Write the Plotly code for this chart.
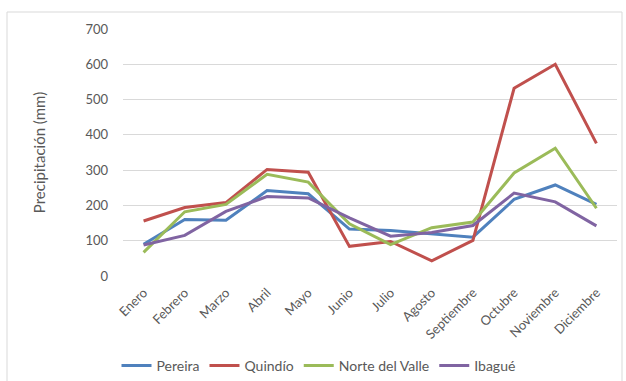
import plotly.graph_objects as go

# Monthly precipitation (mm) by region
meses = ["Enero", "Febrero", "Marzo", "Abril", "Mayo", "Junio", "Julio",
         "Agosto", "Septiembre", "Octubre", "Noviembre", "Diciembre"]
pereira = [90, 160, 158, 242, 233, 133, 129, 119, 110, 217, 258, 203]
quindio = [156, 194, 208, 302, 294, 84, 98, 43, 101, 532, 600, 376]
norte_valle = [67, 182, 203, 288, 266, 148, 89, 137, 153, 292, 362, 192]
ibague = [88, 115, 183, 225, 221, 165, 113, 123, 143, 235, 210, 142]
y_ticks = [0, 100, 200, 300, 400, 500, 600, 700]

series = [
    ("Pereira", pereira, "#4F81BD"),
    ("Quindío", quindio, "#C0504D"),
    ("Norte del Valle", norte_valle, "#9BBB59"),
    ("Ibagué", ibague, "#8064A2"),
]

FONT = "Lato"
GRAY = "#595959"

fig = go.Figure()
for name, vals, color in series:
    fig.add_trace(go.Scatter(
        x=meses, y=vals, name=name, mode="lines",
        line=dict(color=color, width=3),
    ))

# Plot area: x 123..617 px, y 29..276 px
W, H = 626, 381
L, R, T, B = 123, 9, 29, 105
pw, ph = W - L - R, H - T - B

def px_x(px):
    return (px - L) / pw

def px_y(py):
    return (H - B - py) / ph

fig.update_layout(
    width=W, height=H,
    margin=dict(l=L, r=R, t=T, b=B, autoexpand=False),
    paper_bgcolor="white", plot_bgcolor="white",
    font=dict(family=FONT, size=13, color=GRAY),
    showlegend=True,
    legend=dict(
        orientation="h", x=0.5 * (px_x(122) + px_x(515)), xanchor="center",
        y=px_y(366), yanchor="middle",
        font=dict(family=FONT, size=14, color=GRAY),
        itemwidth=30, tracegroupgap=0,
    ),
    xaxis=dict(
        type="category", categoryorder="array", categoryarray=meses,
        showgrid=False, showline=False, zeroline=False, automargin=False,
        tickangle=-45, ticks="outside", ticklen=3, tickcolor="rgba(0,0,0,0)",
        tickfont=dict(family=FONT, size=13, color=GRAY),
        range=[-0.5, 11.5],
    ),
    yaxis=dict(
        range=[0, 700], tickvals=y_ticks, ticktext=[str(v) for v in y_ticks],
        showgrid=True, gridcolor="#D9D9D9", gridwidth=1, automargin=False,
        zeroline=False, showline=False, ticks="",
        ticklabelstandoff=14,
        tickfont=dict(family=FONT, size=13, color=GRAY),
        title=dict(text="Precipitación (mm)", standoff=36,
                   font=dict(family=FONT, size=15, color=GRAY)),
    ),
    shapes=[dict(
        type="rect", xref="paper", yref="paper",
        x0=px_x(7), x1=px_x(622), y0=px_y(400), y1=px_y(12),
        line=dict(color="#D9D9D9", width=1), fillcolor="rgba(0,0,0,0)",
        layer="below",
    )],
)

fig.write_html("out.html")
